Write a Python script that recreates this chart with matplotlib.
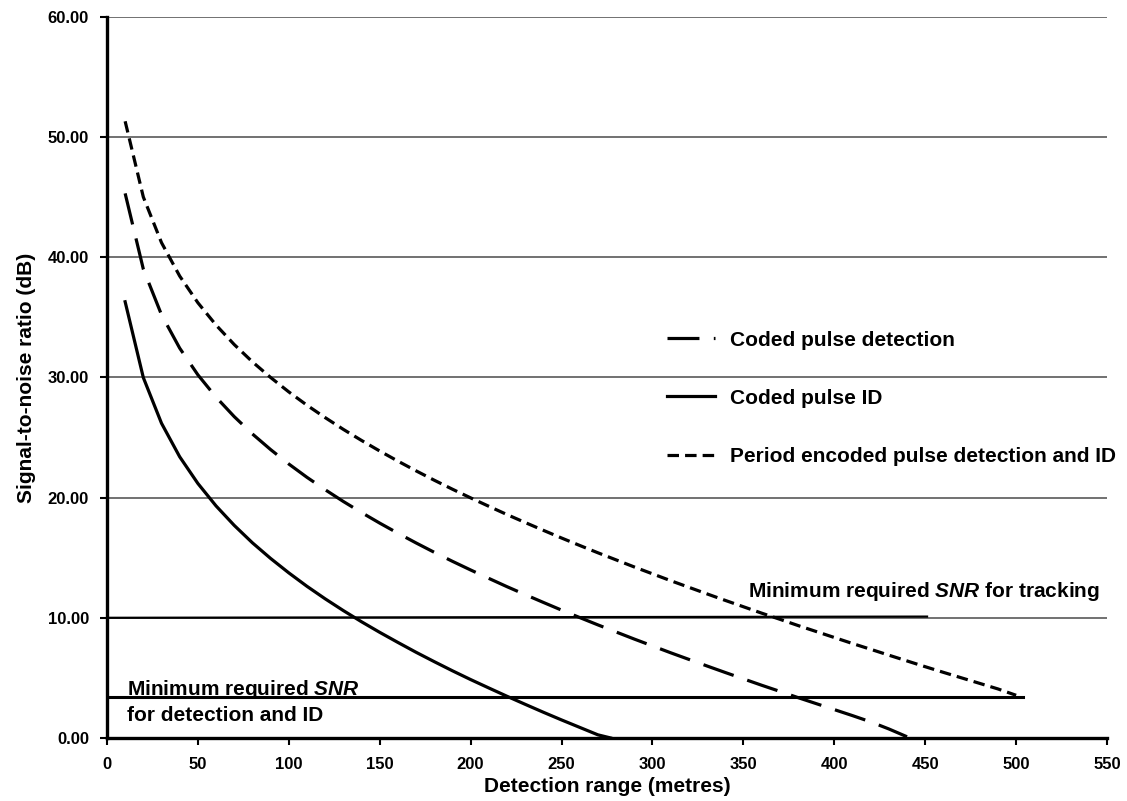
import matplotlib.pyplot as plt

plt.rcParams['font.family'] = ['Liberation Sans', 'DejaVu Sans']
plt.rcParams['font.weight'] = 'bold'
plt.rcParams['mathtext.fontset'] = 'custom'
plt.rcParams['mathtext.bfit'] = 'Liberation Sans:bold:italic'
plt.rcParams['mathtext.it'] = 'Liberation Sans:bold:italic'

# detection range (metres)
range_id = [10, 20, 30, 40, 50, 60, 70, 80, 90, 100, 110, 120, 130, 140, 150,
            160, 170, 180, 190, 200, 210, 220, 230, 240, 250, 260, 270, 277]
snr_id = [36.30, 29.99, 26.19, 23.40, 21.18, 19.31, 17.69, 16.24, 14.94, 13.74,
          12.62, 11.58, 10.60, 9.67, 8.79, 7.95, 7.13, 6.35, 5.59, 4.86,
          4.16, 3.47, 2.80, 2.14, 1.50, 0.88, 0.26, 0.0]

range_det = [10, 20, 30, 40, 50, 60, 70, 80, 90, 100, 110, 120, 130, 140, 150,
             160, 170, 180, 190, 200, 210, 220, 230, 240, 250, 260, 270, 280,
             290, 300, 310, 320, 330, 340, 350, 360, 370, 380, 390, 400, 410,
             420, 430, 440]
snr_det = [45.32, 39.02, 35.22, 32.44, 30.22, 28.36, 26.74, 25.30, 24.00, 22.80,
           21.69, 20.66, 19.68, 18.76, 17.88, 17.04, 16.23, 15.45, 14.70, 13.98,
           13.28, 12.59, 11.93, 11.28, 10.64, 10.02, 9.41, 8.82, 8.23, 7.66,
           7.09, 6.54, 5.99, 5.45, 4.92, 4.39, 3.88, 3.36, 2.86, 2.36,
           1.86, 1.34, 0.75, 0.10]

range_per = [10, 20, 30, 40, 50, 60, 70, 80, 90, 100, 110, 120, 130, 140, 150,
             160, 170, 180, 190, 200, 210, 220, 230, 240, 250, 260, 270, 280,
             290, 300, 310, 320, 330, 340, 350, 360, 370, 380, 390, 400, 410,
             420, 430, 440, 450, 460, 470, 480, 490, 500]
snr_per = [51.32, 45.02, 41.22, 38.44, 36.22, 34.36, 32.74, 31.30, 30.00, 28.80,
           27.69, 26.66, 25.68, 24.76, 23.88, 23.04, 22.23, 21.45, 20.70, 19.98,
           19.28, 18.59, 17.93, 17.28, 16.64, 16.02, 15.41, 14.82, 14.23, 13.66,
           13.09, 12.54, 11.99, 11.45, 10.92, 10.39, 9.88, 9.36, 8.86, 8.36,
           7.86, 7.38, 6.89, 6.41, 5.93, 5.46, 5.00, 4.54, 4.08, 3.55]

# minimum SNR threshold lines
track_x = [0, 451]
track_y = [10.0, 10.1]
detect_x = [0, 504]
detect_y = [3.4, 3.4]

labels = ['Coded pulse detection', 'Coded pulse ID',
          'Period encoded pulse detection and ID']

fig = plt.figure(figsize=(11.27, 8.01), dpi=100)
ax = fig.add_axes([0.0949, 0.0787, 0.8874, 0.9001])

# gridlines
ax.set_axisbelow(True)
ax.yaxis.grid(True, color='#4a4a4a', linewidth=1.1)

ax.plot(range_det, snr_det, color='black', linewidth=2.3, dashes=(10, 4.5),
        label=labels[0])
ax.plot(range_id, snr_id, color='black', linewidth=2.3, label=labels[1])
ax.plot(range_per, snr_per, color='black', linewidth=2.3, dashes=(3.6, 1.9),
        label=labels[2])

ax.plot(track_x, track_y, color='black', linewidth=1.6)
ax.plot(detect_x, detect_y, color='black', linewidth=2.2)

ax.text(546, 11.75, r'Minimum required $\mathbfit{SNR}$ for tracking',
        fontsize=15, fontweight='bold', ha='right', va='baseline')
ax.text(11, 3.6, r'Minimum required $\mathbfit{SNR}$',
        fontsize=15, fontweight='bold', ha='left', va='baseline')
ax.text(11, 1.4, 'for detection and ID',
        fontsize=15, fontweight='bold', ha='left', va='baseline')

ax.set_xlim(0, 550)
ax.set_ylim(0, 60)
ax.set_xticks(range(0, 551, 50))
ax.set_yticks(range(0, 61, 10))
ax.set_yticklabels(['%.2f' % v for v in range(0, 61, 10)])

for s in ['top', 'right']:
    ax.spines[s].set_visible(False)
for s in ['left', 'bottom']:
    ax.spines[s].set_linewidth(2.4)

ax.tick_params(axis='x', direction='out', length=5, width=1.5, pad=9, labelsize=12)
ax.tick_params(axis='y', direction='out', length=5, width=1.5, pad=8, labelsize=12)

ax.set_xlabel('Detection range (metres)', fontsize=15, fontweight='bold', va='top')
ax.xaxis.set_label_coords(0.5, -0.054)
ax.set_ylabel('Signal-to-noise ratio (dB)', fontsize=15, fontweight='bold')
ax.yaxis.set_label_coords(-0.071, 0.5)

ax.legend(loc='upper left', bbox_to_anchor=(0.56, 0.565), frameon=False,
          fontsize=15, handlelength=2.3, handletextpad=0.7, labelspacing=1.88,
          borderpad=0, borderaxespad=0)

fig.savefig('out.png', dpi=100)
